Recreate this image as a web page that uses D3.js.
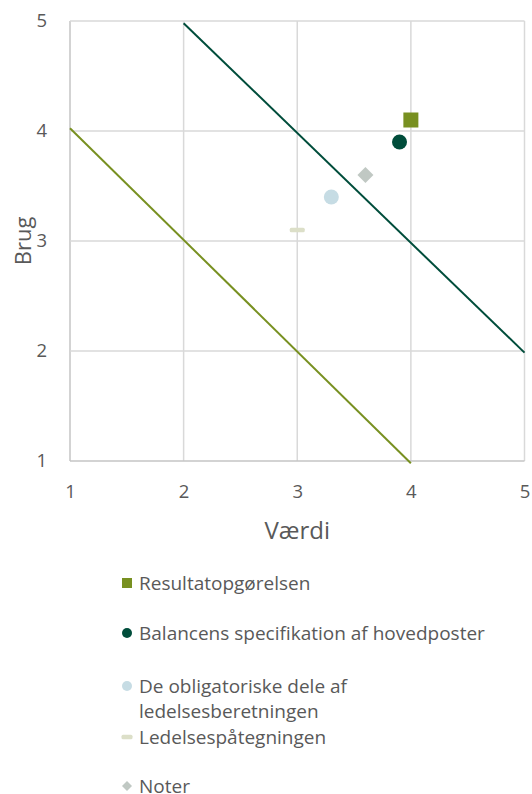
<!DOCTYPE html>
<html><head><meta charset="utf-8">
<script src="https://cdn.jsdelivr.net/npm/d3@7"></script>
<style>
html,body{margin:0;padding:0;background:#fff;}
svg{display:block;font-family:"Open Sans",sans-serif;}
</style></head>
<body>
<script>
// ---- data ----
const xTicks = [1, 2, 3, 4, 5];
const yTicks = [1, 2, 3, 4, 5];
const seriesNames = ["Resultatopgørelsen", "Balancens specifikation af hovedposter", "De obligatoriske dele af ledelsesberetningen", "Ledelsespåtegningen", "Noter"];
const seriesX = [4.0, 3.9, 3.3, 3.0, 3.6];
const seriesY = [4.1, 3.9, 3.4, 3.1, 3.6];
const seriesSymbols = ["square", "circle", "circle", "dash", "diamond"];
const seriesColors = ["#789021", "#004d3b", "#c6dce4", "#dcdfc8", "#c0c8c3"];
const upperLineX = [2, 5];
const upperLineY = [4.98, 1.985];
const lowerLineX = [1, 4];
const lowerLineY = [4.025, 0.98];
const xTitle = "Værdi";
const yTitle = "Brug";

const W = 532, H = 794;
const svg = d3.select("body").append("svg").attr("width", W).attr("height", H);

const x = d3.scaleLinear().domain([1, 5]).range([70, 524.5]);
const y = d3.scaleLinear().domain([1, 5]).range([461, 21]);

const textColor = "#595959";

// gridlines
svg.append("g").selectAll("line.v").data(xTicks).join("line")
  .attr("x1", d => x(d)).attr("x2", d => x(d))
  .attr("y1", y(5)).attr("y2", y(1))
  .attr("stroke", d => d === 1 ? "#c4c4c4" : "#d9d9d9").attr("stroke-width", 1.5);
svg.append("g").selectAll("line.h").data(yTicks).join("line")
  .attr("x1", x(1)).attr("x2", x(5))
  .attr("y1", d => y(d)).attr("y2", d => y(d))
  .attr("stroke", d => d === 1 ? "#c4c4c4" : "#d9d9d9").attr("stroke-width", 1.5);

// tick labels via axes
const xAxis = svg.append("g").attr("transform", `translate(0,${y(1)})`)
  .call(d3.axisBottom(x).tickValues(xTicks).tickFormat(d3.format("d")).tickSize(0).tickPadding(24));
const yAxis = svg.append("g").attr("transform", `translate(${x(1)},0)`)
  .call(d3.axisLeft(y).tickValues(yTicks).tickFormat(d3.format("d")).tickSize(0).tickPadding(23));
[xAxis, yAxis].forEach(a => {
  a.select(".domain").remove();
  a.selectAll("text").attr("fill", textColor).style("font-size", "18.5px").style("font-family", "'Open Sans',sans-serif");
});

// lines
const lineGen = d3.line().x(d => x(d[0])).y(d => y(d[1]));
svg.append("path").datum(lowerLineX.map((v, i) => [v, lowerLineY[i]]))
  .attr("d", lineGen).attr("fill", "none").attr("stroke", "#789021").attr("stroke-width", 2);
svg.append("path").datum(upperLineX.map((v, i) => [v, upperLineY[i]]))
  .attr("d", lineGen).attr("fill", "none").attr("stroke", "#004d3b").attr("stroke-width", 2);

// markers
function drawMarker(g, sym, color, cx, cy, s) {
  if (sym === "square") {
    g.append("rect").attr("x", cx - s / 2).attr("y", cy - s / 2).attr("width", s).attr("height", s).attr("fill", color);
  } else if (sym === "circle") {
    g.append("circle").attr("cx", cx).attr("cy", cy).attr("r", s / 2).attr("fill", color);
  } else if (sym === "diamond") {
    const r = s / 2;
    g.append("path").attr("d", `M${cx},${cy - r}L${cx + r},${cy}L${cx},${cy + r}L${cx - r},${cy}Z`).attr("fill", color);
  } else if (sym === "dash") {
    g.append("rect").attr("x", cx - s / 2).attr("y", cy - 2.2).attr("width", s).attr("height", 4.4).attr("rx", 1.5).attr("fill", color);
  }
}
const mg = svg.append("g");
seriesNames.forEach((n, i) => {
  const s = seriesSymbols[i] === "diamond" ? 16 : 15;
  drawMarker(mg, seriesSymbols[i], seriesColors[i], x(seriesX[i]), y(seriesY[i]), s);
});

// axis titles
svg.append("text").attr("x", (x(1) + x(5)) / 2).attr("y", 539).attr("text-anchor", "middle")
  .attr("fill", textColor).style("font-size", "24px").text(xTitle);
svg.append("text").attr("transform", `translate(31,241) rotate(-90)`).attr("text-anchor", "middle")
  .attr("fill", textColor).style("font-size", "22px").text(yTitle);

// legend
const legendRows = [
  { lines: ["Resultatopgørelsen"], y: 583 },
  { lines: ["Balancens specifikation af hovedposter"], y: 633 },
  { lines: ["De obligatoriske dele af", "ledelsesberetningen"], y: 686 },
  { lines: ["Ledelsespåtegningen"], y: 737 },
  { lines: ["Noter"], y: 786 }
];
const lg = svg.append("g");
legendRows.forEach((r, i) => {
  const sym = seriesSymbols[i];
  const sz = sym === "dash" ? 11 : 10;
  drawMarker(lg, sym, seriesColors[i], 127, r.y, sz);
  r.lines.forEach((t, j) => {
    lg.append("text").attr("x", 139).attr("y", r.y + j * 25.5).attr("dy", "0.35em")
      .attr("fill", textColor).style("font-size", "19px").text(t);
  });
});
</script>
</body></html>
